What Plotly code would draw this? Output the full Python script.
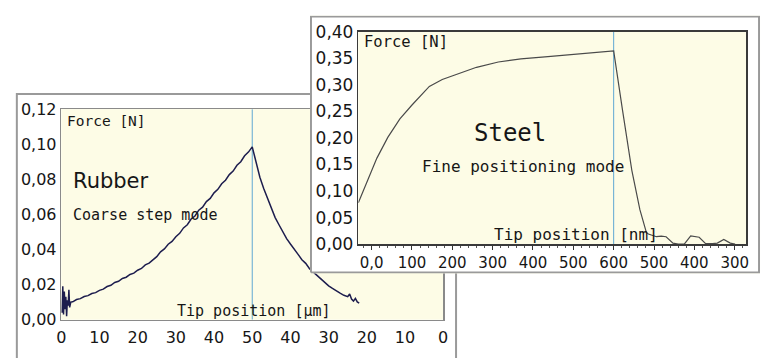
import plotly.graph_objects as go

W, H = 768, 358

# ---------------- data ----------------
# Rubber: force [N] vs tip position [µm] (coarse step mode); x runs 0..50 forward then back (50..100 shown as 50..0)
rubber_x = [0.2, 0.4, 0.6, 0.8, 1.0, 1.2, 1.4, 1.6, 1.8, 2.0, 2.2, 2.5,
            3, 4, 5, 6, 7, 8, 9, 10, 11, 12, 13, 14, 15, 16, 17, 18, 19, 20,
            21, 22, 23, 24, 25, 26, 27, 28, 29, 30, 31, 32, 33, 34, 35, 36, 37, 38, 39, 40,
            41, 42, 43, 44, 45, 46, 47, 48, 49, 50,
            51, 52, 53, 54, 55, 56, 57, 58, 59, 60, 61, 62, 63, 64, 65, 66, 67, 68, 69, 70,
            71, 72, 73, 74, 75, 75.5, 76, 76.5, 77, 77.5, 78]
rubber_y = [0.004, 0.019, 0.003, 0.016, 0.006, 0.013, 0.002, 0.011, 0.008, 0.017, 0.007, 0.010,
            0.0102, 0.0115, 0.0120, 0.0132, 0.0137, 0.0149, 0.0154, 0.0167, 0.0174, 0.0189, 0.0196, 0.0212,
            0.0219, 0.0235, 0.0242, 0.0258, 0.0265, 0.0282, 0.0292, 0.0312, 0.0322, 0.0343, 0.0359, 0.0387,
            0.0403, 0.0430, 0.0446, 0.0473, 0.0492, 0.0523, 0.0541, 0.0574, 0.0591, 0.0624, 0.0641, 0.0673,
            0.0691, 0.0723, 0.0743, 0.0775, 0.0795, 0.0827, 0.0847, 0.0880, 0.0900, 0.0934, 0.0955, 0.0985,
            0.0890, 0.0812, 0.0748, 0.0690, 0.0632, 0.0582, 0.0541, 0.0500, 0.0462, 0.0431, 0.0398, 0.0372,
            0.0342, 0.0321, 0.0291, 0.0272, 0.0249, 0.0232, 0.0210, 0.0193, 0.0178, 0.0163, 0.0151, 0.0139,
            0.0131, 0.0146, 0.0118, 0.0106, 0.0121, 0.0101, 0.0094]
rubber_turn_x = 50

# Steel: force [N] vs tip position [nm] (fine positioning mode); x runs 0..600 then back (700..900 shown as 500..300)
steel_x = [-33, -10, 13, 40, 70, 100, 143, 175, 208, 260, 314, 370, 437, 520, 600,
           622, 645, 665, 681, 686, 696, 706, 718, 730, 747, 760, 775, 791, 812, 828, 845, 857, 873, 889, 901]
steel_y = [0.078, 0.120, 0.162, 0.201, 0.236, 0.262, 0.297, 0.310, 0.319, 0.333, 0.343, 0.349, 0.353, 0.358, 0.364,
           0.252, 0.139, 0.065, 0.022, 0.019, 0.016, 0.014, 0.015, 0.014, 0.002, 0.0, 0.0, 0.0155, 0.013, 0.001,
           0.001, 0.002, 0.009, 0.002, 0.0]
steel_turn_x = 600

rubber_xtick_vals = [0, 10, 20, 30, 40, 50, 60, 70, 80, 90, 100]
rubber_xtick_text = ["0", "10", "20", "30", "40", "50", "40", "30", "20", "10", "0"]
rubber_ytick_vals = [0, 0.02, 0.04, 0.06, 0.08, 0.10, 0.12]
rubber_ytick_text = ["0,00", "0,02", "0,04", "0,06", "0,08", "0,10", "0,12"]
steel_xtick_vals = [0, 100, 200, 300, 400, 500, 600, 700, 800, 900]
steel_xtick_text = ["0,0", "100", "200", "300", "400", "500", "600", "500", "400", "300"]
steel_ytick_vals = [0, 0.05, 0.10, 0.15, 0.20, 0.25, 0.30, 0.35, 0.40]
steel_ytick_text = ["0,00", "0,05", "0,10", "0,15", "0,20", "0,25", "0,30", "0,35", "0,40"]

# ---------------- style ----------------
CREAM = "#FDFCE6"
NAVY = "#1d1d4e"
BLUE = "#5fa8d3"
FRAME = "#9a9a9a"
TXT = "#161616"
MONO = "DejaVu Sans Mono"
SANS = "DejaVu Sans"


def fx(p):
    return p / W


def fy(p):
    return 1 - p / H


fig = go.Figure()

# Rubber subplot (x, y)
fig.add_trace(go.Scatter(x=[rubber_turn_x, rubber_turn_x], y=[0, 0.12], mode="lines",
                         line=dict(color=BLUE, width=1), xaxis="x", yaxis="y", hoverinfo="skip"))
fig.add_trace(go.Scatter(x=rubber_x, y=rubber_y, mode="lines",
                         line=dict(color=NAVY, width=1.5), xaxis="x", yaxis="y", hoverinfo="skip"))

# Steel window frame (x2, y2): white panel covering the rubber window
fig.add_trace(go.Scatter(x=[0.0022, 0.9978, 0.9978, 0.0022, 0.0022],
                         y=[0.0037, 0.0037, 0.9963, 0.9963, 0.0037],
                         mode="lines", fill="toself", fillcolor="white",
                         line=dict(color=FRAME, width=2), xaxis="x2", yaxis="y2", hoverinfo="skip"))

# Steel subplot (x3, y3)
fig.add_trace(go.Scatter(x=[steel_turn_x, steel_turn_x], y=[0, 0.4], mode="lines",
                         line=dict(color=BLUE, width=1), xaxis="x3", yaxis="y3", hoverinfo="skip"))
fig.add_trace(go.Scatter(x=steel_x, y=steel_y, mode="lines",
                         line=dict(color="#4a4a4a", width=1.2), xaxis="x3", yaxis="y3", hoverinfo="skip"))

axis_common = dict(showgrid=False, zeroline=False, showline=True, mirror=True, fixedrange=True)

fig.update_layout(
    width=W, height=H, autosize=False,
    margin=dict(l=0, r=0, t=0, b=0, pad=0),
    paper_bgcolor="white", plot_bgcolor=CREAM,
    showlegend=False, hovermode=False,
    xaxis=dict(domain=[fx(57), fx(444)], range=[0, 100], anchor="y",
               tickmode="array", tickvals=rubber_xtick_vals, ticktext=rubber_xtick_text,
               ticks="", ticklabelstandoff=3, tickfont=dict(family=SANS, size=16, color=TXT),
               linecolor="#8a8a8a", linewidth=1.5, **axis_common),
    yaxis=dict(domain=[fy(328), fy(105)], range=[0, 0.12], anchor="x",
               tickmode="array", tickvals=rubber_ytick_vals, ticktext=rubber_ytick_text,
               ticks="", tickfont=dict(family=SANS, size=16, color=TXT),
               linecolor="#8a8a8a", linewidth=1.5, **axis_common),
    xaxis2=dict(domain=[fx(309), fx(765)], range=[0, 1], anchor="y2", visible=False, fixedrange=True),
    yaxis2=dict(domain=[fy(279), fy(6)], range=[0, 1], anchor="x2", visible=False, fixedrange=True),
    xaxis3=dict(domain=[fx(358), fx(751)], range=[-33, 928.6], anchor="y3",
                tickmode="array", tickvals=steel_xtick_vals, ticktext=steel_xtick_text,
                ticks="outside", ticklen=4, tickcolor="#333", tickwidth=1,
                minor=dict(ticks="outside", ticklen=2, tickmode="linear", tick0=0, dtick=20,
                           tickcolor="#555", tickwidth=1),
                tickfont=dict(family=SANS, size=15, color=TXT),
                linecolor="#3a3a3a", linewidth=1.5, **axis_common),
    yaxis3=dict(domain=[fy(248), fy(23)], range=[0, 0.4], anchor="x3",
                tickmode="array", tickvals=steel_ytick_vals, ticktext=steel_ytick_text,
                ticks="", tickfont=dict(family=SANS, size=17, color=TXT),
                linecolor="#3a3a3a", linewidth=1.5, **axis_common),
    shapes=[
        dict(type="rect", xref="paper", yref="paper", layer="below",
             x0=fx(12), x1=fx(457), y0=fy(380), y1=fy(89),
             line=dict(color=FRAME, width=2), fillcolor="rgba(0,0,0,0)"),
    ],
)


def note(text, x, y, xref, yref, size, family=MONO):
    fig.add_annotation(text=text, x=x, y=y, xref=xref, yref=yref, showarrow=False,
                       xanchor="left", yanchor="middle",
                       font=dict(family=family, size=size, color=TXT))


# Rubber panel texts
note("Force [N]", 1.0, 0.113, "x", "y", 14.5)
note("Rubber", 2.6, 0.079, "x", "y", 21, SANS)
note("Coarse step mode", 2.6, 0.0597, "x", "y", 15)
note("Tip position [µm]", 29.7, 0.0048, "x", "y", 15)

# Steel panel texts
note("Force [N]", -23.2, 0.380, "x3", "y3", 15.5)
note("Steel", 248, 0.2098, "x3", "y3", 24)
note("Fine positioning mode", 118.7, 0.1458, "x3", "y3", 16)
note("Tip position [nm]", 297.3, 0.0187, "x3", "y3", 16)

fig.write_html(
    "out.html",
    config={"displayModeBar": False, "staticPlot": True},
    post_script="document.body.style.margin='0px';document.body.style.overflow='hidden';",
)
